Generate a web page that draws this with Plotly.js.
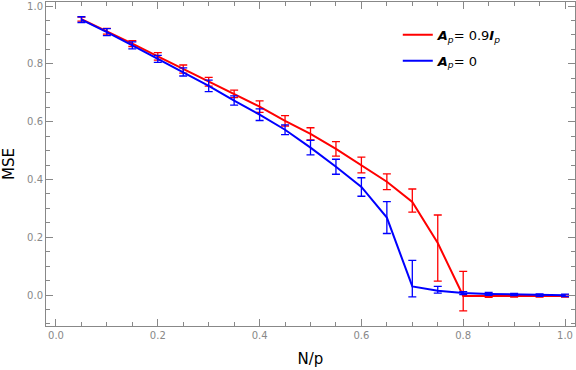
<!DOCTYPE html>
<html><head><meta charset="utf-8">
<script src="https://cdn.plot.ly/plotly-3.0.1.min.js"></script>
<style>html,body{margin:0;padding:0;background:#fff}#chart{width:576px;height:370px}</style>
</head><body><div id="chart"></div>
<script>
const ratio = [0.05,0.1,0.15,0.2,0.25,0.3,0.35,0.4,0.45,0.5,0.55,0.6,0.65,0.7,0.75,0.8,0.85,0.9,0.95,1.0];
const redMse = [0.955,0.913,0.870,0.826,0.782,0.738,0.696,0.652,0.603,0.558,0.506,0.450,0.392,0.322,0.180,-0.003,-0.003,-0.003,-0.003,-0.003];
const redErrUp = [0.007,0.010,0.010,0.013,0.014,0.015,0.013,0.020,0.018,0.021,0.025,0.027,0.027,0.045,0.097,0.085,0.005,0.004,0.004,0.004];
const redErrDown = [0.007,0.010,0.010,0.013,0.014,0.015,0.013,0.020,0.018,0.021,0.025,0.027,0.027,0.035,0.132,0.052,0.005,0.004,0.004,0.004];
const blueMse = [0.953,0.910,0.864,0.817,0.772,0.724,0.673,0.624,0.572,0.510,0.444,0.374,0.268,0.030,0.015,0.007,0.004,0.002,0.000,-0.001];
const blueErrUp = [0.010,0.012,0.012,0.012,0.014,0.020,0.016,0.020,0.017,0.025,0.026,0.032,0.055,0.090,0.015,0.005,0.005,0.004,0.004,0.004];
const blueErrDown = [0.010,0.012,0.012,0.012,0.014,0.020,0.016,0.020,0.017,0.025,0.026,0.032,0.055,0.036,0.008,0.005,0.005,0.004,0.004,0.004];

function trace(y, up, down, color, name, grp){
  return {x: ratio, y: y, mode: 'lines', name: name, legendgroup: grp,
    line: {color: color, width: 2},
    error_y: {type: 'data', symmetric: false, array: up, arrayminus: down, color: color, thickness: 1.3, width: 4}};
}
const data = [
  trace(redMse, redErrUp, redErrDown, '#ff0000', '<b><i>A</i></b><sub><i>p</i></sub>= 0.9<b><i>I</i></b><sub><i>p</i></sub>', 'a'),
  trace(blueMse, blueErrUp, blueErrDown, '#0000ff', '<b><i>A</i></b><sub><i>p</i></sub>= 0', 'b')
];
const axisCommon = {showgrid: false, zeroline: false, showline: true, linecolor: '#888', linewidth: 1,
  mirror: 'ticks', ticks: 'inside', ticklen: 7, tickcolor: '#888', tickwidth: 1,
  tickfont: {family: 'DejaVu Sans, sans-serif', size: 10, color: '#888'}};
const layout = {
  width: 576, height: 370,
  margin: {l: 46, r: 1, t: 2, b: 44},
  paper_bgcolor: '#fff', plot_bgcolor: '#fff',
  showlegend: true,
  legend: {x: 0.665, y: 0.945, xanchor: 'left', yanchor: 'top', bgcolor: 'rgba(0,0,0,0)',
    font: {family: 'DejaVu Sans, sans-serif', size: 13, color: '#000'}, tracegroupgap: 6, itemwidth: 30},
  xaxis: Object.assign({}, axisCommon, {range: [-0.0196, 1.0196], tickmode: 'linear', tick0: 0, dtick: 0.2,
    tickformat: '.1f', minor: {dtick: 0.05, tick0: 0, ticklen: 4, tickcolor: '#888', ticks: 'inside'},
    title: {text: 'N/p', font: {family: 'DejaVu Sans, sans-serif', size: 15, color: '#000'}, standoff: 13}}),
  yaxis: Object.assign({}, axisCommon, {range: [-0.107, 1.014], tickmode: 'linear', tick0: 0, dtick: 0.2,
    tickformat: '.1f', minor: {dtick: 0.05, tick0: 0, ticklen: 4, tickcolor: '#888', ticks: 'inside'},
    title: {text: 'MSE', font: {family: 'DejaVu Sans, sans-serif', size: 15, color: '#000'}, standoff: 8}})
};
Plotly.newPlot('chart', data, layout, {displayModeBar: false, staticPlot: true});
</script></body></html>
